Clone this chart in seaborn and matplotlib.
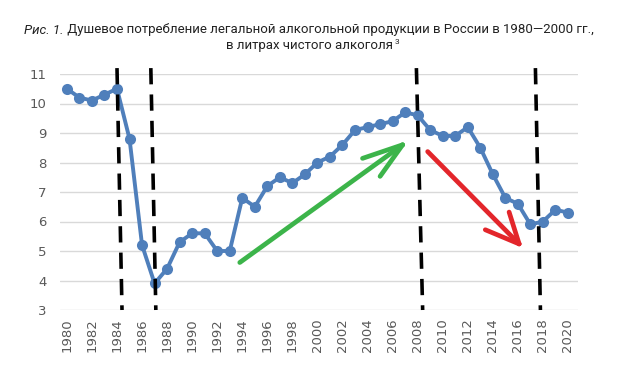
import matplotlib
matplotlib.use("Agg")
import matplotlib.pyplot as plt
import seaborn as sns
import pandas as pd

years = list(range(1980, 2021))
consumption = [10.5, 10.2, 10.1, 10.3, 10.5, 8.8, 5.2, 3.9, 4.4, 5.3,
               5.6, 5.6, 5.0, 5.0, 6.8, 6.5, 7.2, 7.5, 7.3, 7.6,
               8.0, 8.2, 8.6, 9.1, 9.2, 9.3, 9.4, 9.7, 9.6, 9.1,
               8.9, 8.9, 9.2, 8.5, 7.6, 6.8, 6.6, 5.9, 6.0, 6.4, 6.3]

# dashed separators: (x at top, x at bottom)
vlines_top = [1984.0, 1986.7, 2007.9, 2017.4]
vlines_bottom = [1984.4, 1987.1, 2008.4, 2017.8]

# arrows: shaft start, tip, two arm ends
green_shaft = [(1993.8, 4.61), (2006.8, 8.6)]
green_arms = [(2003.6, 8.14), (2005.0, 7.53)]
red_shaft = [(2008.8, 8.37), (2016.1, 5.24)]
red_arms = [(2013.4, 5.72), (2015.3, 6.32)]

title_italic = "Рис. 1."
title_rest = " Душевое потребление легальной алкогольной продукции в России в 1980—2000 гг.,"
title_line2 = "в литрах чистого алкоголя"

sns.set_theme(style="white")
plt.rcParams['font.family'] = ['DejaVu Sans']

df = pd.DataFrame({"year": years, "value": consumption})

fig = plt.figure(figsize=(6.18, 3.69), dpi=100)
ax = fig.add_axes([60/618, 1-310/369, 518/618, 236/369])

for v in range(3, 12):
    ax.axhline(v, color="#d9d9d9", lw=1, zorder=0)

sns.lineplot(data=df, x="year", y="value", ax=ax, color="#4f7fbb", lw=2.8,
             marker="o", markersize=8, markeredgewidth=0, zorder=3)

ax.set_xlim(1979.45, 2020.8)
ax.set_ylim(3, 11)

for xt, xb in zip(vlines_top, vlines_bottom):
    ax.plot([xt, xb], [11.2, 3.0], color="black", lw=2.6,
            linestyle=(0, (4.5, 2.8)), clip_on=False, zorder=4)

def draw_arrow(shaft, arms, color):
    (x0, y0), (x1, y1) = shaft
    ax.plot([x0, x1], [y0, y1], color=color, lw=3.4, solid_capstyle="round", zorder=5)
    for ax_, ay_ in arms:
        ax.plot([ax_, x1], [ay_, y1], color=color, lw=3.4, solid_capstyle="round", zorder=5)

draw_arrow(green_shaft, green_arms, "#3cb44a")
draw_arrow(red_shaft, red_arms, "#e3262b")

ax.set_xticks(years[::2])
ax.set_xticklabels([str(y) for y in years[::2]], rotation=90)
ax.set_yticks(range(3, 12))
ax.set_xlabel("")
ax.set_ylabel("")
ax.tick_params(axis="both", length=0, labelsize=9.5, colors="#595959")
ax.tick_params(axis="y", pad=9.5)
ax.tick_params(axis="x", pad=6)
for s in ax.spines.values():
    s.set_visible(False)

# title
tfont = ['Roboto', 'DejaVu Sans']
fs = 9.5
y1 = 1 - 30/369
t1 = fig.text(0, y1, title_italic, fontsize=fs, style="italic", family=tfont, color="#222222", va="center")
t2 = fig.text(0, y1, title_rest, fontsize=fs, family=tfont, color="#222222", va="center")
t3 = fig.text(0.5, 1 - 46/369, title_line2, fontsize=fs, family=tfont, color="#222222", va="center", ha="center")
fig.canvas.draw()
r = fig.canvas.get_renderer()
w1 = t1.get_window_extent(r).width
w2 = t2.get_window_extent(r).width
total = w1 + w2
start = 309 - total/2
t1.set_x(start/618)
t2.set_x((start + w1)/618)
b3 = t3.get_window_extent(r)
fig.text(b3.x1/618 + 0.003, 1 - 42/369, "3", fontsize=6, family=tfont, color="#222222", va="center")

fig.savefig("out.png", dpi=100)
